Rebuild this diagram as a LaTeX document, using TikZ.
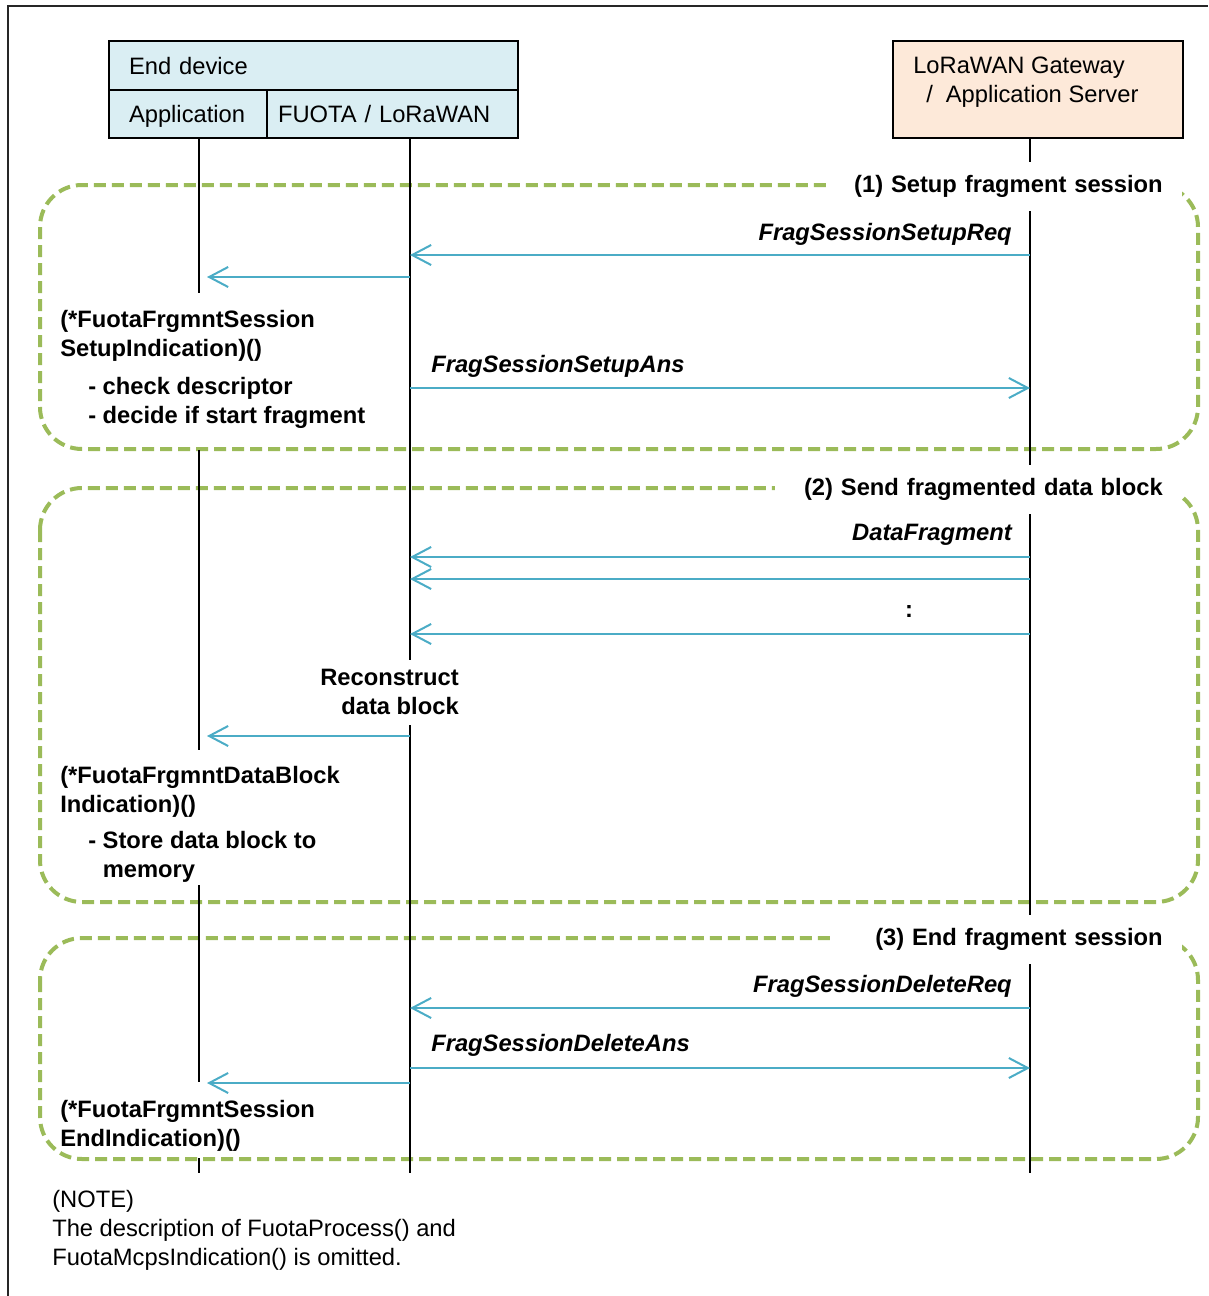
\documentclass[tikz,border=0pt]{standalone}
\usepackage{fontspec}
\setmainfont{Liberation Sans}
\usetikzlibrary{arrows.meta}
\definecolor{arrowcol}{RGB}{75,172,198}
\definecolor{dashcol}{RGB}{155,187,89}
\definecolor{devfill}{RGB}{218,238,243}
\definecolor{srvfill}{RGB}{253,233,217}
\newcommand\fs{\fontsize{17.8pt}{21.75pt}\selectfont}
\begin{document}
\begin{tikzpicture}[x=0.75pt,y=-0.75pt,
  every node/.style={font=\fs, inner sep=0pt},
  hdr/.style={draw=black, line width=1.5pt, anchor=north west, align=left},
  life/.style={draw=black, line width=1.3pt},
  sect/.style={draw=dashcol, line width=3pt, dash pattern=on 9pt off 4.5pt, rounded corners=31.5pt},
  seclab/.style={fill=white, anchor=north east, align=right, inner xsep=14.25pt, inner ysep=0pt, minimum height=36.75pt, font=\fs\bfseries},
  msg/.style={draw=arrowcol, line width=1.5pt, -{Straight Barb[length=14.25pt,width=15pt]}},
  msglab/.style={font=\fs\bfseries\itshape},
  blk/.style={font=\fs\bfseries, align=left, anchor=north west},
]
\useasboundingbox (0,0) rectangle (1208,1296);
% outer frame
\draw[line width=1.2pt, black!85] (8,1296) -- (8,6) -- (1208,6);

% header boxes
\node[hdr, fill=devfill, minimum width=306.75pt, minimum height=36.75pt, text width=276.75pt, inner xsep=15pt, text height=12.75pt, text depth=0pt] (enddev) at (108,40) {End device};
\node[hdr, fill=devfill, minimum width=118.5pt, minimum height=36pt, text width=88.5pt, inner xsep=15pt, text height=12.75pt, text depth=0pt] (appbox) at (108,89) {Application};
\node[hdr, fill=devfill, minimum width=188.25pt, minimum height=36pt, text width=171.75pt, inner xsep=8.25pt, text height=12.75pt, text depth=0pt] (fuobox) at (266,89) {FUOTA / LoRaWAN};
\node[hdr, fill=srvfill, minimum width=217.5pt, minimum height=72.75pt] (srvbox) at (892,40) {};
\node[anchor=north west, align=left] (srvtxt) at (913,52.7) {\strut LoRaWAN Gateway\\\hspace*{9.75pt}/\hspace{9.75pt}Application Server};

% dashed session frames
\draw[sect] (40,185) rectangle (1198,449);
\draw[sect] (40,488) rectangle (1198,902);
\draw[sect] (40,938) rectangle (1198,1159);

% lifelines
\draw[life] (199,137) -- (199,293) (199,450) -- (199,750) (199,885) -- (199,1082) (199,1158) -- (199,1173);
\draw[life] (410,137) -- (410,660) (410,725) -- (410,1173);
\draw[life] (1030,137) -- (1030,1173);

% section labels
\node[seclab, text width=237pt] (lab1) at (1182,162) {\strut(1) Setup fragment session};
\node[seclab, text width=276.75pt] (lab2) at (1182,465) {\strut(2) Send fragmented data block};
\node[seclab, text width=231.75pt] (lab3) at (1182,915) {\strut(3) End fragment session};

% message end points
\coordinate (s1) at (1030,255);  \coordinate (f1) at (410,255);
\coordinate (f2) at (410,277);   \coordinate (a2) at (207,277);
\coordinate (f3) at (410,388);   \coordinate (s3) at (1030,388);
\coordinate (s4) at (1030,557);  \coordinate (f4) at (410,557);
\coordinate (s5) at (1030,579);  \coordinate (f5) at (410,579);
\coordinate (s6) at (1030,634);  \coordinate (f6) at (410,634);
\coordinate (f7) at (410,736);   \coordinate (a7) at (207,736);
\coordinate (s8) at (1030,1008); \coordinate (f8) at (410,1008);
\coordinate (f9) at (410,1068);  \coordinate (s9) at (1030,1068);
\coordinate (f10) at (410,1083); \coordinate (a10) at (207,1083);

\draw[msg] (s1) -- (f1);
\draw[msg] (f2) -- (a2);
\draw[msg] (f3) -- (s3);
\draw[msg] (s4) -- (f4);
\draw[msg] (s5) -- (f5);
\draw[msg] (s6) -- (f6);
\draw[msg] (f7) -- (a7);
\draw[msg] (s8) -- (f8);
\draw[msg] (f9) -- (s9);
\draw[msg] (f10) -- (a10);

% message labels
\node[msglab, anchor=base east] (m1) at (1012,240) {FragSessionSetupReq};
\node[msglab, anchor=base west] (m2) at (431,372) {FragSessionSetupAns};
\node[msglab, anchor=base east] (m3) at (1012,540) {DataFragment};
\node[font=\fs\bfseries, anchor=base] (dots) at (909,617) {:};
\node[msglab, anchor=base east] (m4) at (1012,992) {FragSessionDeleteReq};
\node[msglab, anchor=base west] (m5) at (431,1051) {FragSessionDeleteAns};

% text blocks
\node[blk] (t1) at (60,306.7) {\strut(*FuotaFrgmntSession\\SetupIndication)()};
\node[blk] (t1b) at (88,373.7) {\strut- check descriptor\\- decide if start fragment};
\node[blk, anchor=north east, align=right] (recon) at (459,664.7) {\strut Reconstruct\\data block};
\node[blk] (t2) at (60,762.7) {\strut(*FuotaFrgmntDataBlock\\Indication)()};
\node[blk] (t2b) at (88,827.7) {\strut- Store data block to\\\hphantom{- }memory};
\node[blk] (t3) at (60,1096.7) {\strut(*FuotaFrgmntSession\\EndIndication)()};
\node[anchor=north west, align=left] (note) at (52,1186.7) {\strut(NOTE)\\The description of FuotaProcess() and\\FuotaMcpsIndication() is omitted.};
\end{tikzpicture}
\end{document}
